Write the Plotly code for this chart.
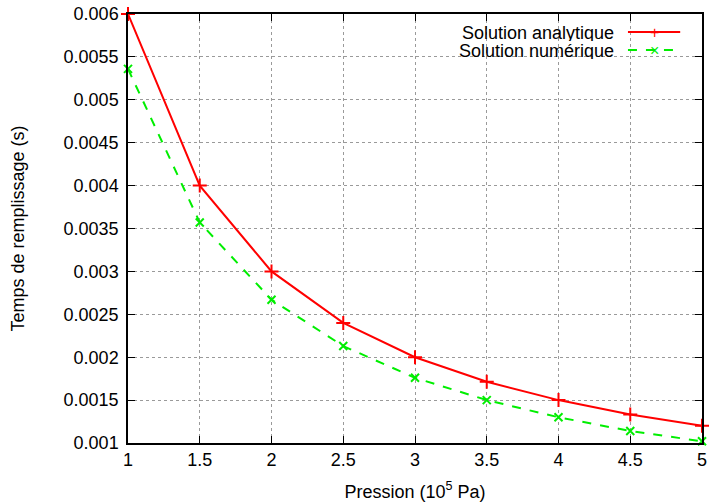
import plotly.graph_objects as go

pression = [1, 1.5, 2, 2.5, 3, 3.5, 4, 4.5, 5]
t_analytique = [0.006, 0.004, 0.003, 0.0024, 0.002, 0.001714, 0.0015, 0.001333, 0.0012]
t_numerique = [0.00536, 0.00357, 0.00267, 0.00213, 0.00176, 0.00150, 0.00130, 0.00114, 0.00102]

x_ticks = [1, 1.5, 2, 2.5, 3, 3.5, 4, 4.5, 5]
x_ticklabels = ["1", "1.5", "2", "2.5", "3", "3.5", "4", "4.5", "5"]
y_ticks = [0.001, 0.0015, 0.002, 0.0025, 0.003, 0.0035, 0.004, 0.0045, 0.005, 0.0055, 0.006]
y_ticklabels = ["0.001", "0.0015", "0.002", "0.0025", "0.003", "0.0035", "0.004",
                "0.0045", "0.005", "0.0055", "0.006"]

names = ["Solution analytique", "Solution numérique"]

FONT = "Liberation Sans, Arial, sans-serif"
FS = 18
RED = "#ff0000"
GREEN = "#00ee00"

fig = go.Figure()
fig.add_trace(go.Scatter(
    x=pression, y=t_analytique, mode="lines+markers", name=names[0],
    line=dict(color=RED, width=2),
    marker=dict(symbol="cross-thin", size=10, line=dict(color=RED, width=2)),
    cliponaxis=False, showlegend=False))
fig.add_trace(go.Scatter(
    x=pression, y=t_numerique, mode="lines+markers", name=names[1],
    line=dict(color=GREEN, width=2, dash="dash"),
    marker=dict(symbol="x-thin", size=8, line=dict(color=GREEN, width=2)),
    cliponaxis=False, showlegend=False))

axis_common = dict(
    showline=True, linecolor="black", linewidth=1.5, mirror="ticks",
    ticks="inside", ticklen=7, tickcolor="black", tickwidth=1.2,
    showgrid=True, gridcolor="#9a9a9a", griddash="dot", gridwidth=1,
    zeroline=False, automargin=False,
    tickfont=dict(family=FONT, size=FS, color="black"),
)

fig.update_xaxes(range=[1, 5], tickvals=x_ticks, ticktext=x_ticklabels,
                 title=dict(text="Pression (10<sup>5</sup> Pa)",
                            font=dict(family=FONT, size=FS, color="black"), standoff=16),
                 **axis_common)
fig.update_yaxes(range=[0.001, 0.006], tickvals=y_ticks, ticktext=y_ticklabels,
                 ticklabelstandoff=4,
                 title=dict(text="Temps de remplissage (s)",
                            font=dict(family=FONT, size=FS, color="black"), standoff=34),
                 **axis_common)

# key area: blank background hiding the grid, text on the left of the sample
shapes = [
    dict(type="rect", xref="paper", yref="paper", x0=0.483, x1=0.996, y0=0.898, y1=0.998,
         fillcolor="white", line=dict(width=0), layer="between"),
    dict(type="line", xref="paper", yref="paper", x0=0.871, x1=0.962, y0=0.958, y1=0.958,
         line=dict(color=RED, width=2), layer="above"),
    dict(type="line", xref="paper", yref="paper", x0=0.871, x1=0.962, y0=0.916, y1=0.916,
         line=dict(color=GREEN, width=2, dash="dash"), layer="above"),
]
annotations = [
    dict(xref="paper", yref="paper", x=0.848, y=0.958, text=names[0], showarrow=False,
         height=17, valign="middle", borderpad=0,
         xanchor="right", yanchor="middle", font=dict(family=FONT, size=FS, color="black")),
    dict(xref="paper", yref="paper", x=0.848, y=0.916, text=names[1], showarrow=False,
         height=17, valign="middle", borderpad=0,
         xanchor="right", yanchor="middle", font=dict(family=FONT, size=FS, color="black")),
    dict(xref="paper", yref="paper", x=0.9165, y=0.958, text="+", showarrow=False,
         height=12, borderpad=0,
         xanchor="center", yanchor="middle", font=dict(family=FONT, size=16, color=RED)),
    dict(xref="paper", yref="paper", x=0.9165, y=0.916, text="×", showarrow=False,
         height=12, borderpad=0,
         xanchor="center", yanchor="middle", font=dict(family=FONT, size=16, color=GREEN)),
]

fig.update_layout(
    width=709, height=503, autosize=False,
    margin=dict(l=128, r=7, t=14, b=60),
    plot_bgcolor="white", paper_bgcolor="white",
    shapes=shapes, annotations=annotations,
    font=dict(family=FONT, size=FS, color="black"),
)

fig.write_html("out.html", config={"displayModeBar": False},
               post_script="document.body.style.margin='0';document.body.style.overflow='hidden';")
